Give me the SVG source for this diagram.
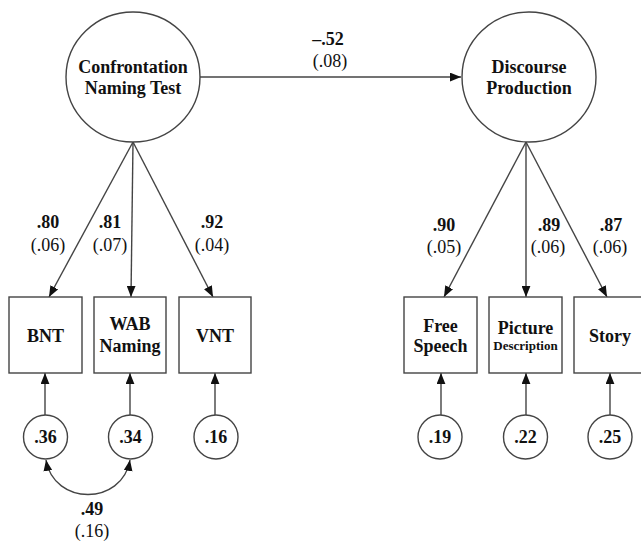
<svg xmlns="http://www.w3.org/2000/svg" width="641" height="541" viewBox="0 0 641 541">
<defs>
<style>
.shape{fill:#fff;stroke:#444;stroke-width:1.4}
.conn{fill:none;stroke:#444;stroke-width:1.4}
</style>
<marker id="ah" viewBox="0 0 10 8" refX="10" refY="4" markerWidth="11" markerHeight="9" markerUnits="userSpaceOnUse" orient="auto-start-reverse">
<path d="M0,0 L10,4 L0,8 Z" fill="#111"/>
</marker>
</defs>
<rect width="641" height="541" fill="#fff"/>
<g id="connectors" class="conn">
<line x1="200" y1="77" x2="461" y2="77" marker-end="url(#ah)"/>
<line x1="133" y1="142" x2="49" y2="297" marker-end="url(#ah)"/>
<line x1="133" y1="142" x2="131" y2="297" marker-end="url(#ah)"/>
<line x1="133" y1="142" x2="213" y2="297" marker-end="url(#ah)"/>
<line x1="526" y1="142" x2="444" y2="297" marker-end="url(#ah)"/>
<line x1="526" y1="142" x2="526" y2="297" marker-end="url(#ah)"/>
<line x1="526" y1="142" x2="607" y2="297" marker-end="url(#ah)"/>
<line x1="45" y1="415" x2="45" y2="373" marker-end="url(#ah)"/>
<line x1="130" y1="415" x2="130" y2="373" marker-end="url(#ah)"/>
<line x1="215" y1="415" x2="215" y2="373" marker-end="url(#ah)"/>
<line x1="441" y1="415" x2="441" y2="373" marker-end="url(#ah)"/>
<line x1="526" y1="415" x2="526" y2="373" marker-end="url(#ah)"/>
<line x1="610" y1="415" x2="610" y2="373" marker-end="url(#ah)"/>
<path d="M46 460 C54 506 122 506 130 460" marker-start="url(#ah)" marker-end="url(#ah)"/>
</g>
<g id="labels" font-family="Liberation Serif, Times New Roman, serif" font-size="18" fill="#111" text-anchor="middle" stroke="none">
<text font-weight="bold" x="328" y="45">–.52</text>
<text x="330" y="67">(.08)</text>
<text font-weight="bold" x="48" y="228">.80</text>
<text x="48" y="251">(.06)</text>
<text font-weight="bold" x="110" y="228">.81</text>
<text x="110" y="251">(.07)</text>
<text font-weight="bold" x="212" y="228">.92</text>
<text x="212" y="251">(.04)</text>
<text font-weight="bold" x="444" y="231">.90</text>
<text x="444" y="253">(.05)</text>
<text font-weight="bold" x="549" y="231">.89</text>
<text x="548" y="253">(.06)</text>
<text font-weight="bold" x="611" y="231">.87</text>
<text x="610" y="253">(.06)</text>
<text font-weight="bold" x="92" y="515">.49</text>
<text x="92" y="537">(.16)</text>
</g>
<g id="nodes" font-family="Liberation Serif, Times New Roman, serif" font-size="18" font-weight="bold" text-anchor="middle" fill="#111">
<g id="cnt">
<ellipse class="shape" cx="133" cy="77" rx="67" ry="65"/>
<text x="133" y="73">Confrontation</text>
<text x="133" y="94">Naming Test</text>
</g>
<g id="dp">
<ellipse class="shape" cx="529" cy="77" rx="67" ry="65"/>
<text x="529" y="73">Discourse</text>
<text x="529" y="94">Production</text>
</g>
<g id="bnt">
<rect class="shape" x="9" y="297" width="73" height="76"/>
<text x="45.5" y="342">BNT</text>
</g>
<g id="wab">
<rect class="shape" x="94" y="297" width="72" height="76"/>
<text x="130" y="330">WAB</text>
<text x="130" y="352">Naming</text>
</g>
<g id="vnt">
<rect class="shape" x="179" y="297" width="72" height="76"/>
<text x="215" y="342">VNT</text>
</g>
<g id="free">
<rect class="shape" x="404" y="297" width="73" height="76"/>
<text x="440.5" y="332">Free</text>
<text x="440.5" y="352">Speech</text>
</g>
<g id="picture">
<rect class="shape" x="489" y="297" width="73" height="76"/>
<text x="525.5" y="334">Picture</text>
<text font-size="13" x="525.5" y="350">Description</text>
</g>
<g id="story">
<rect class="shape" x="574" y="297" width="73" height="76"/>
<text x="610" y="342">Story</text>
</g>
<g id="e1"><circle class="shape" cx="45.5" cy="437" r="22"/><text x="45.5" y="443">.36</text></g>
<g id="e2"><circle class="shape" cx="130.5" cy="437" r="22"/><text x="130.5" y="443">.34</text></g>
<g id="e3"><circle class="shape" cx="216" cy="437" r="22"/><text x="216" y="443">.16</text></g>
<g id="e4"><circle class="shape" cx="440" cy="437" r="22"/><text x="440" y="443">.19</text></g>
<g id="e5"><circle class="shape" cx="525.5" cy="437" r="22"/><text x="525.5" y="443">.22</text></g>
<g id="e6"><circle class="shape" cx="610" cy="437" r="22"/><text x="610" y="443">.25</text></g>
</g>
</svg>
